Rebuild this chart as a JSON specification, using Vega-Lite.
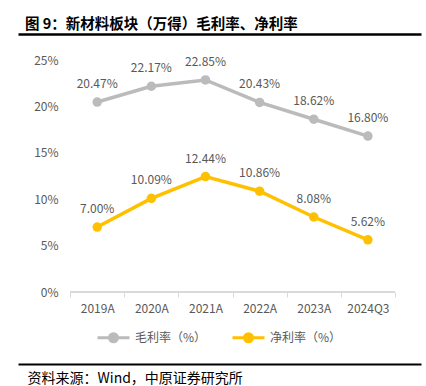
{
  "$schema": "https://vega.github.io/schema/vega-lite/v6.json",
  "autosize": {"type": "none"},
  "width": 403,
  "height": 232,
  "padding": {"left": 18, "top": 60, "right": 5, "bottom": 94},
  "background": "white",
  "config": {
    "font": "Noto Sans CJK SC",
    "view": {"stroke": null}
  },
  "title": {
    "text": "图 9：新材料板块（万得）毛利率、净利率",
    "anchor": "start",
    "frame": "group",
    "dx": 7,
    "offset": 2,
    "fontSize": 14.5,
    "fontWeight": "bold",
    "color": "#000000",
    "font": "Noto Sans CJK SC"
  },
  "data": {
    "values": [
      {"year": "2019A", "series": "毛利率（%）", "value": 20.47},
      {"year": "2020A", "series": "毛利率（%）", "value": 22.17},
      {"year": "2021A", "series": "毛利率（%）", "value": 22.85},
      {"year": "2022A", "series": "毛利率（%）", "value": 20.43},
      {"year": "2023A", "series": "毛利率（%）", "value": 18.62},
      {"year": "2024Q3", "series": "毛利率（%）", "value": 16.80},
      {"year": "2019A", "series": "净利率（%）", "value": 7.00},
      {"year": "2020A", "series": "净利率（%）", "value": 10.09},
      {"year": "2021A", "series": "净利率（%）", "value": 12.44},
      {"year": "2022A", "series": "净利率（%）", "value": 10.86},
      {"year": "2023A", "series": "净利率（%）", "value": 8.08},
      {"year": "2024Q3", "series": "净利率（%）", "value": 5.62}
    ]
  },
  "transform": [
    {"calculate": "format(datum.value, '.2f') + '%'", "as": "label"}
  ],
  "encoding": {
    "y": {
      "field": "value",
      "type": "quantitative",
      "scale": {"domain": [0, 25]},
      "axis": {
        "values": [0, 5, 10, 15, 20, 25],
        "labelExpr": "datum.value + '%'",
        "domain": false,
        "ticks": false,
        "grid": false,
        "title": null,
        "labelColor": "#595959",
        "labelFontSize": 12,
        "labelPadding": 12,
        "offset": -52
      }
    },
    "color": {
      "field": "series",
      "type": "nominal",
      "scale": {"domain": ["毛利率（%）", "净利率（%）"], "range": ["#BBBBBB", "#FFC000"]},
      "legend": {
        "title": null,
        "orient": "none",
        "direction": "horizontal",
        "legendX": 78,
        "legendY": 260,
        "symbolType": "M-1,0L1,0M-0.25,0A0.25,0.25,0,1,1,0.25,0A0.25,0.25,0,1,1,-0.25,0",
        "symbolSize": 1024,
        "symbolStrokeWidth": 3,
        "labelColor": "#595959",
        "labelFontSize": 12,
        "labelOffset": 4,
        "columnPadding": 19
      }
    }
  },
  "layer": [
    {
      "mark": {"type": "rule", "color": "#D9D9D9", "strokeWidth": 1},
      "encoding": {
        "y": {"datum": 0, "type": "quantitative"},
        "x": {"datum": "2019A", "type": "nominal", "bandPosition": 0, "axis": null},
        "x2": {"datum": "2024Q3", "bandPosition": 1},
        "color": {"value": "#D9D9D9"}
      }
    },
    {
      "mark": {"type": "line", "strokeWidth": 3.5},
      "encoding": {
        "x": {
          "field": "year",
          "type": "nominal",
          "sort": null,
          "scale": {"domain": ["2019A", "2020A", "2021A", "2022A", "2023A", "2024Q3"], "paddingInner": 0, "paddingOuter": 0.722, "align": 0.667},
          "axis": {
            "title": null,
            "labelAngle": 0,
            "labelColor": "#595959",
            "labelFontSize": 12,
            "labelPadding": 6,
            "domain": false,
            "tickColor": "#D9D9D9",
            "tickBand": "extent",
            "tickSize": 5,
            "grid": false
          }
        }
      }
    },
    {
      "mark": {"type": "point", "filled": true, "size": 90, "opacity": 1},
      "encoding": {
        "x": {
          "field": "year",
          "type": "nominal",
          "sort": null,
          "axis": {
            "orient": "top",
            "title": null,
            "labels": false,
            "ticks": false,
            "grid": false,
            "domain": true,
            "domainColor": "#000000",
            "domainWidth": 2.5,
            "domainOpacity": 1,
            "offset": 26
          }
        }
      }
    },
    {
      "mark": {"type": "text", "dy": -18, "fontSize": 12, "color": "#595959"},
      "encoding": {
        "x": {
          "field": "year",
          "type": "nominal",
          "sort": null,
          "axis": {
            "orient": "bottom",
            "title": "资料来源：Wind，中原证券研究所",
            "titleAnchor": "start",
            "titleAlign": "left",
            "titleBaseline": "alphabetic",
            "titleX": 9,
            "titleY": 18,
            "titleFontSize": 14,
            "titleFontWeight": "normal",
            "titleColor": "#000000",
            "labels": false,
            "ticks": false,
            "grid": false,
            "domain": true,
            "domainColor": "#000000",
            "domainWidth": 2,
            "domainOpacity": 1,
            "offset": 72
          }
        },
        "text": {"field": "label"},
        "color": {"value": "#595959"}
      }
    }
  ],
  "resolve": {"axis": {"x": "independent"}}
}
